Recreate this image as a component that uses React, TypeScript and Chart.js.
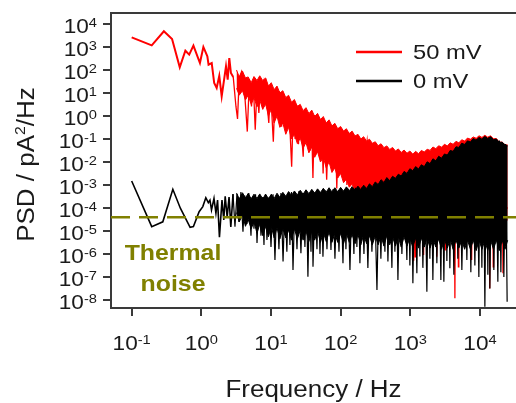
import React, { useEffect, useRef } from 'react';
import { Chart, registerables } from 'chart.js';

Chart.register(...registerables);

// ---------- axes ----------
const X_MIN = 0.0505;
const X_MAX = 32900;
const Y_MIN = 4.5e-9;
const Y_MAX = 3.0e4;
const X_TICK_VALUES = [0.1, 1, 10, 100, 1000, 10000];
const X_TICK_EXPONENTS = ['-1', '0', '1', '2', '3', '4'];
const Y_TICK_VALUES = [1e4, 1e3, 1e2, 1e1, 1, 1e-1, 1e-2, 1e-3, 1e-4, 1e-5, 1e-6, 1e-7, 1e-8];
const Y_TICK_EXPONENTS = ['4', '3', '2', '1', '0', '-1', '-2', '-3', '-4', '-5', '-6', '-7', '-8'];

// ---------- text ----------
const X_TITLE = 'Frequency / Hz';
const Y_TITLE_PARTS = ['PSD / pA', '2', '/Hz'];
const SERIES_LABELS = ['50 mV', '0 mV'];
const NOISE_LABEL = ['Thermal', 'noise'];
const THERMAL_LEVEL = 4e-5;

// ---------- 50 mV series (red) ----------
const RED_LOW: [number, number][] = [
  [0.1, 2600], [0.194, 1180], [0.29, 4800], [0.38, 2240], [0.49, 132], [0.59, 690], [0.67, 465],
  [0.77, 1140], [0.955, 200], [1.07, 1000], [1.22, 395], [1.27, 170], [1.41, 200], [1.53, 27],
  [1.66, 16.6], [1.81, 56], [1.96, 7.2], [2.14, 45], [2.26, 145], [2.39, 38], [2.52, 330],
  [2.66, 74], [2.87, 50],
];
const RED_DENSE: [number, number][] = [
  [2.87, 50], [3.14, 2.6], [3.31, 0.74], [3.5, 45], [3.8, 87], [4.0, 52], [4.25, 5.1], [4.57, 0.21],
  [4.9, 38], [5.25, 2.6], [5.56, 32], [5.94, 0.25], [6.3, 19], [6.7, 1.35], [7.1, 38], [7.6, 1.9],
  [8.0, 27], [8.7, 5.1], [9.3, 0.5], [9.8, 20], [10.8, 0.076], [11.5, 15], [12.3, 1.0], [13.2, 12],
  [14.2, 0.34], [15.3, 9], [16.5, 0.6], [17.8, 6], [18.8, 0.2], [19.8, 0.0063], [21.0, 4], [22.2, 0.1],
  [23.5, 3], [24.8, 0.06], [26.2, 2.4], [27.6, 0.15], [29, 0.017], [30.5, 2], [32, 0.08], [34, 1.5],
  [36, 0.03], [38, 1.3], [40, 0.002], [42, 1.1], [44.5, 0.04], [47, 1.0], [50, 0.015], [53, 0.8],
  [56, 0.0032], [59, 0.6], [63, 0.0017], [67, 0.5], [71, 0.02], [75, 0.4], [79, 0.008], [84, 0.35],
  [88, 0.0007], [93, 0.3], [98, 0.01], [104, 0.25], [110, 0.003], [116, 0.22], [123, 0.001], [130, 0.2],
  [137, 0.004], [145, 0.17], [153, 0.002], [162, 0.14], [171, 0.006], [181, 0.12], [192, 0.003],
  [205, 0.1], [220, 0.01], [240, 0.085], [260, 0.005], [300, 0.001], [600, 0.0003], [1000, 1e-4],
  [1070, 1e-4], [1096, 5.5e-7], [1120, 1e-4], [1150, 1e-4], [1175, 7.6e-7], [1200, 1e-4],
  [1520, 1e-4], [1550, 9.1e-7], [1580, 1e-4], [2350, 1e-4], [2400, 7.6e-7], [2450, 1e-4],
  [3100, 1e-4], [3160, 1.5e-6], [3220, 1e-4], [4300, 1e-4], [4365, 1.2e-8], [4430, 1e-4],
  [4830, 1e-4], [4900, 2.8e-7], [4970, 1e-4], [7480, 1e-4], [7590, 5.5e-7], [7700, 1e-4],
  [13600, 1e-4], [13800, 3.2e-8], [14000, 1e-4], [15300, 1e-4], [15500, 2.8e-7], [15700, 1e-4],
  [21100, 1e-4], [21400, 1.45e-7], [21700, 1e-4], [25000, 1e-4],
];

// ---------- dense-band frequencies (shared) ----------
const BAND_F = [
  3.2, 3.5, 3.9, 4.3, 4.7, 5.2, 5.7, 6.3, 6.9, 7.6,
  8.4, 9.2, 10.1, 11.1, 12.2, 13.4, 14.8, 16.3, 17.9, 19.7,
  21.7, 23.9, 26.3, 28.9, 31.8, 35, 38.5, 42.4, 46.6, 51.3,
  56.4, 62, 68.2, 75, 82.5, 90.8, 99.9, 110, 121, 133,
  146, 161, 177, 195, 214, 236, 259, 285, 314, 345,
  380, 418, 460, 506, 556, 612, 673, 740, 814, 896,
  985, 1084, 1192, 1311, 1442, 1587, 1745, 1920, 2112, 2323,
  2555, 2811, 3092, 3401, 3741, 4115, 4527, 4979, 5477, 6025,
  6628, 7290, 8019, 8821, 9703, 10674, 11741, 12915, 14207, 15627,
  17190, 18909, 20800, 22880, 25000,
];
const RED_BAND_UPPER = [
  100, 50, 89, 45, 50, 28, 52, 35, 56, 35,
  45, 20, 28, 14, 20, 10, 12.6, 6.3, 7.9, 4,
  5.2, 2.6, 3.2, 1.7, 2.3, 1.26, 1.8, 0.95, 1.3, 0.7,
  0.95, 0.5, 0.68, 0.37, 0.48, 0.28, 0.35, 0.22, 0.28, 0.17,
  0.22, 0.135, 0.16, 0.1, 0.126, 0.08, 0.098, 0.065, 0.076, 0.051,
  0.062, 0.042, 0.05, 0.035, 0.043, 0.03, 0.037, 0.026, 0.033, 0.024,
  0.03, 0.022, 0.029, 0.023, 0.032, 0.027, 0.036, 0.032, 0.045, 0.038,
  0.051, 0.044, 0.059, 0.05, 0.068, 0.059, 0.079, 0.068, 0.093, 0.081,
  0.11, 0.098, 0.123, 0.107, 0.138, 0.117, 0.145, 0.12, 0.138, 0.102,
  0.105, 0.072, 0.074, 0.056, 0.055,
];
const RED_BAND_LOWER = [
  16, 8, 12.6, 5, 8, 3.2, 6.3, 2.5, 5, 2,
  3.2, 1, 2, 0.5, 1, 0.32, 0.5, 0.16, 0.32, 0.1,
  0.16, 0.063, 0.11, 0.04, 0.07, 0.025, 0.045, 0.016, 0.028, 0.01,
  0.016, 0.0056, 0.01, 0.0035, 0.0056, 0.002, 0.0032, 0.00126, 0.0018, 8e-4,
  0.0011, 5e-4, 6.3e-4, 3.2e-4, 4e-4, 2e-4, 1e-4, 1e-4, 1e-4, 1e-4,
  1e-4, 3e-5, 3e-5, 3e-5, 3e-5, 3e-5, 3e-5, 3e-5, 3e-5, 3e-5,
  3e-5, 3e-5, 3e-5, 3e-5, 3e-5, 3e-5, 3e-5, 3e-5, 3e-5, 3e-5,
  3e-5, 3e-5, 3e-5, 3e-5, 3e-5, 3e-5, 3e-5, 3e-5, 3e-5, 3e-5,
  3e-5, 3e-5, 3e-5, 3e-5, 3e-5, 3e-5, 3e-5, 3e-5, 3e-5, 3e-5,
  3e-5, 3e-5, 3e-5, 3e-5, 3e-5,
];

// ---------- 0 mV series (black) ----------
const BLACK_LOW: [number, number][] = [
  [0.1, 1.5e-3], [0.194, 1.55e-5], [0.28, 2.5e-5], [0.39, 6.5e-4], [0.5, 9.8e-5], [0.69, 1.45e-5],
  [0.77, 1.55e-5], [0.93, 6.9e-5], [1.05, 1.15e-4], [1.16, 2.8e-4], [1.26, 1.7e-4], [1.33, 2.2e-4],
  [1.4, 8.2e-5], [1.52, 2.6e-4], [1.62, 5.9e-5], [1.71, 2.2e-4], [1.82, 5.4e-6], [1.98, 2.2e-4],
  [2.1, 3e-5], [2.2, 3.2e-4], [2.35, 4e-5], [2.5, 3e-4], [2.65, 1.5e-5], [2.85, 4e-4],
];
const BLACK_DENSE: [number, number][] = [
  [2.85, 4e-4], [3.04, 1.55e-5], [3.25, 4e-4], [3.47, 2.5e-5], [3.7, 5e-4], [3.96, 9.3e-6], [4.2, 3.5e-4],
  [4.52, 2e-5], [4.8, 4.5e-4], [5.16, 6.3e-6], [5.4, 3e-4], [5.7, 1.26e-5], [6.0, 4e-4], [6.3, 3e-6],
  [6.7, 3.5e-4], [7.18, 6.3e-6], [7.5, 3e-4], [7.93, 2.5e-6], [8.3, 4e-4], [8.75, 4.1e-6], [9.4, 3e-4],
  [10.0, 2e-6], [10.7, 4e-4], [11.4, 5.5e-7], [12.2, 3.5e-4], [13.0, 1.6e-6], [13.9, 4.5e-4],
  [14.9, 4.7e-7], [15.9, 3.5e-4], [16.9, 1.26e-6], [17.8, 4e-4], [18.7, 2.5e-6], [19.7, 5e-4],
  [20.7, 2e-7], [22.1, 4e-4], [23.6, 1.6e-6], [25.2, 5.5e-4], [26.9, 1.07e-6], [28.7, 4.5e-4],
  [30.7, 2e-6], [32.3, 5e-4], [33.9, 1.02e-7], [35.7, 4.5e-4], [37.5, 1.26e-6], [38.8, 5.5e-4],
  [40.1, 2.8e-7], [42.8, 5e-4], [45.7, 1.6e-6], [48, 6e-4], [50.5, 1e-6], [53, 5e-4], [55.7, 7.6e-7],
  [59.5, 6e-4], [63.6, 1.6e-6], [68, 5.5e-4], [72.6, 1.5e-6], [77.5, 6.5e-4], [82.8, 6.3e-7],
  [88.5, 5.5e-4], [94.6, 1.26e-6], [101, 6.5e-4], [108, 4e-7], [113, 6e-4], [119, 1.6e-6], [127, 7e-4],
  [136, 2e-7], [145, 6e-4], [155, 1e-6], [163, 7.5e-4], [171, 2e-6], [180, 6.5e-4], [189, 4e-7],
  [202, 8e-4], [216, 1e-6], [230, 7e-4], [246, 2.5e-7], [263, 9e-4], [281, 1.26e-6], [305, 8.5e-4],
  [332, 2.7e-8], [355, 1.1e-3], [378, 6.3e-7], [404, 1.2e-3], [432, 1.26e-6], [454, 1.5e-3],
  [477, 4.7e-7], [510, 1.4e-3], [544, 2.5e-7], [572, 1.9e-3], [601, 1.26e-6], [632, 1.8e-3],
  [664, 7.4e-8], [710, 2.3e-3], [757, 1e-6], [822, 2.8e-3], [893, 5.5e-7], [938, 2.6e-3], [986, 3.2e-7],
  [1036, 3.8e-3], [1089, 5.4e-8], [1163, 4.5e-3], [1242, 1.45e-7], [1306, 5e-3], [1372, 7.9e-7],
  [1442, 6e-3], [1515, 2.5e-7], [1620, 6.5e-3], [1729, 2.3e-8], [1817, 8.5e-3], [1909, 6.3e-7],
  [2006, 9e-3], [2108, 7.4e-8], [2250, 0.012], [2405, 4e-7], [2570, 0.014], [2746, 7.4e-8],
  [2885, 0.017], [3032, 6.3e-8], [3186, 0.019], [3348, 5e-7], [3518, 0.022], [3697, 2.4e-7],
  [3950, 0.03], [4218, 1.26e-7], [4500, 0.037], [4815, 6.3e-7], [5140, 0.048], [5495, 2e-7],
  [5970, 0.058], [6486, 5.5e-7], [6930, 0.075], [7396, 1.6e-7], [7900, 0.085], [8447, 3.2e-7],
  [9020, 0.1], [9640, 1e-7], [10130, 0.11], [10650, 2.5e-7], [11190, 0.115], [11760, 5.1e-9],
  [12350, 0.12], [12980, 1.26e-7], [13420, 0.115], [13870, 3.2e-8], [14800, 0.11], [15820, 2e-7],
  [16900, 0.1], [18060, 6.3e-8], [19000, 0.085], [19950, 1.6e-7], [21000, 0.07], [22030, 1e-7],
  [23300, 0.06], [24550, 8.5e-9],
];
const BLACK_BAND_UPPER = [
  4.5e-4, 2.5e-4, 4.6e-4, 2.7e-4, 4.3e-4, 2.5e-4, 4e-4, 2.6e-4, 4.1e-4, 2.5e-4,
  4e-4, 2.5e-4, 4e-4, 2.6e-4, 4.4e-4, 2.9e-4, 4.8e-4, 3.2e-4, 5.2e-4, 3.5e-4,
  5.5e-4, 3.7e-4, 5.9e-4, 4e-4, 6.2e-4, 4.2e-4, 6.5e-4, 4.4e-4, 6.8e-4, 4.7e-4,
  7.2e-4, 4.9e-4, 7.6e-4, 5e-4, 7.6e-4, 5.1e-4, 7.9e-4, 5.4e-4, 8.3e-4, 5.6e-4,
  8.5e-4, 5.9e-4, 8.9e-4, 6.3e-4, 9.8e-4, 7.1e-4, 1.12e-3, 8.5e-4, 1.35e-3, 1.05e-3,
  1.7e-3, 1.3e-3, 2.1e-3, 1.55e-3, 2.4e-3, 1.95e-3, 2.95e-3, 2.45e-3, 3.9e-3, 3.2e-3,
  5.1e-3, 4.2e-3, 6.3e-3, 5e-3, 7.6e-3, 6.3e-3, 0.0102, 8.5e-3, 0.0138, 0.0112,
  0.0178, 0.0145, 0.0224, 0.02, 0.032, 0.029, 0.046, 0.043, 0.066, 0.058,
  0.083, 0.074, 0.105, 0.089, 0.117, 0.098, 0.129, 0.105, 0.126, 0.093,
  0.1, 0.072, 0.072, 0.056, 0.05,
];
const BLACK_BAND_LOWER = [
  6.3e-5, 2.5e-5, 5e-5, 1.6e-5, 3.2e-5, 1.26e-5, 2.5e-5, 8e-6, 2e-5, 6.3e-6,
  1.6e-5, 5.6e-6, 1.6e-5, 5e-6, 1.4e-5, 4.5e-6, 1.26e-5, 5e-6, 1.1e-5, 4e-6,
  1.26e-5, 4.5e-6, 1.1e-5, 4e-6, 1e-5, 3.5e-6, 1e-5, 4e-6, 1e-5, 3.2e-6,
  8.9e-6, 3.5e-6, 8.9e-6, 3.2e-6, 8e-6, 3.2e-6, 8e-6, 2.8e-6, 8e-6, 3.2e-6,
  7.1e-6, 2.8e-6, 7.1e-6, 2.5e-6, 7.1e-6, 2.8e-6, 6.3e-6, 2.5e-6, 6.3e-6, 2.5e-6,
  6.3e-6, 2.2e-6, 6.3e-6, 2.5e-6, 5.6e-6, 2.2e-6, 5.6e-6, 2e-6, 5.6e-6, 2.2e-6,
  5e-6, 2e-6, 5e-6, 1.8e-6, 5e-6, 2e-6, 5e-6, 1.8e-6, 4.5e-6, 2e-6,
  4.5e-6, 1.6e-6, 4.5e-6, 1.8e-6, 4.5e-6, 1.6e-6, 4e-6, 1.8e-6, 4e-6, 1.6e-6,
  4e-6, 1.6e-6, 4e-6, 1.4e-6, 4e-6, 1.6e-6, 4e-6, 1.4e-6, 4e-6, 1.6e-6,
  4e-6, 1.4e-6, 4e-6, 1.6e-6, 4e-6,
];

// ---------- styles ----------
const RED = '#ff0000';
const BLACK = '#000000';
const OLIVE = '#808000';
const AXIS = '#3a3a3a';
const TEXT = '#1a1a1a';
const FONT = '"Liberation Sans", Arial, Helvetica, sans-serif';
const SX = 1.13;

type Run = { text: string; font: string; dy?: number };

function drawRuns(ctx: CanvasRenderingContext2D, runs: Run[], x: number, y: number,
  align: 'left' | 'center' | 'right', angle: number, color: string) {
  ctx.save();
  let total = 0;
  const widths = runs.map((r) => { ctx.font = r.font; const w = ctx.measureText(r.text).width; total += w; return w; });
  ctx.translate(x, y);
  if (angle) ctx.rotate(angle);
  ctx.scale(SX, 1);
  let cx = align === 'right' ? -total : align === 'center' ? -total / 2 : 0;
  ctx.fillStyle = color;
  ctx.textAlign = 'left';
  ctx.textBaseline = 'alphabetic';
  runs.forEach((r, i) => { ctx.font = r.font; ctx.fillText(r.text, cx, r.dy || 0); cx += widths[i]; });
  ctx.restore();
}

const pairs = (arr: [number, number][]) => arr.map(([x, y]) => ({ x, y }));
const band = (f: number[], v: number[]) => f.map((x, i) => ({ x, y: v[i] }));

const textPlugin = {
  id: 'psdText',
  beforeDatasetsDraw(chart: any) {
    const { ctx, chartArea: a } = chart;
    ctx.save();
    ctx.strokeStyle = AXIS;
    ctx.lineWidth = 2;
    ctx.beginPath();
    ctx.moveTo(a.left - 1, a.top);
    ctx.lineTo(a.right, a.top);
    ctx.stroke();
    ctx.restore();
  },
  afterDraw(chart: any) {
    const { ctx, chartArea: a, scales } = chart;
    const tickFont = `20px ${FONT}`;
    const supFont = `13px ${FONT}`;
    Y_TICK_VALUES.forEach((v, i) => {
      const py = scales.y.getPixelForValue(v);
      drawRuns(ctx, [{ text: '10', font: tickFont }, { text: Y_TICK_EXPONENTS[i], font: supFont, dy: -6 }],
        a.left - 14, py + 9, 'right', 0, TEXT);
    });
    X_TICK_VALUES.forEach((v, i) => {
      const px = scales.x.getPixelForValue(v);
      drawRuns(ctx, [{ text: '10', font: tickFont }, { text: X_TICK_EXPONENTS[i], font: supFont, dy: -6 }],
        px, a.bottom + 42, 'center', 0, TEXT);
    });
    const titleFont = `23px ${FONT}`;
    drawRuns(ctx, [{ text: X_TITLE, font: titleFont }], (a.left + a.right) / 2, a.bottom + 89, 'center', 0, TEXT);
    drawRuns(ctx, [
      { text: Y_TITLE_PARTS[0], font: titleFont },
      { text: Y_TITLE_PARTS[1], font: `14px ${FONT}`, dy: -9 },
      { text: Y_TITLE_PARTS[2], font: titleFont },
    ], a.left - 77.5, (a.top + a.bottom) / 2 + 4, 'center', -Math.PI / 2, TEXT);
    const legendColors = [RED, BLACK];
    SERIES_LABELS.forEach((label, i) => {
      const ly = a.top + 39 + i * 29;
      ctx.save();
      ctx.strokeStyle = legendColors[i];
      ctx.lineWidth = 2.5;
      ctx.beginPath();
      ctx.moveTo(a.left + 245, ly);
      ctx.lineTo(a.left + 291, ly);
      ctx.stroke();
      ctx.restore();
      drawRuns(ctx, [{ text: label, font: `21px ${FONT}` }], a.left + 302, ly + 6.5, 'left', 0, TEXT);
    });
    const boldFont = `bold 22px ${FONT}`;
    drawRuns(ctx, [{ text: NOISE_LABEL[0], font: boldFont }], a.left + 62, 259.5, 'center', 0, OLIVE);
    drawRuns(ctx, [{ text: NOISE_LABEL[1], font: boldFont }], a.left + 62, 291, 'center', 0, OLIVE);
  },
};

const axisCommon = {
  type: 'logarithmic' as const,
  ticks: { display: false },
  grid: {
    display: true, drawOnChartArea: false, drawTicks: true, tickLength: 8,
    color: AXIS, lineWidth: 2, tickColor: AXIS, tickWidth: 2,
  },
  border: { display: true, color: AXIS, width: 2 },
  title: { display: false },
};

export default function App() {
  const ref = useRef<HTMLCanvasElement>(null);
  useEffect(() => {
    document.body.style.margin = '0';
    const canvas = ref.current;
    if (!canvas) return;
    const chart = new Chart(canvas, {
      type: 'line',
      data: {
        datasets: [
          { label: 'thermal', data: [{ x: X_MIN, y: THERMAL_LEVEL }, { x: X_MAX, y: THERMAL_LEVEL }],
            borderColor: OLIVE, borderWidth: 2.5, borderDash: [19, 9], order: 0, fill: false },
          { label: SERIES_LABELS[1] + ' low', data: pairs(BLACK_LOW), borderColor: BLACK, borderWidth: 1.6, order: 1, fill: false },
          { label: SERIES_LABELS[1], data: pairs(BLACK_DENSE), borderColor: BLACK, borderWidth: 1.2, order: 2, fill: false },
          { label: 'black upper', data: band(BAND_F, BLACK_BAND_UPPER), borderColor: BLACK, borderWidth: 1,
            backgroundColor: BLACK, fill: '+1', order: 3 },
          { label: 'black lower', data: band(BAND_F, BLACK_BAND_LOWER), borderColor: BLACK, borderWidth: 1, order: 4, fill: false },
          { label: SERIES_LABELS[0] + ' low', data: pairs(RED_LOW), borderColor: RED, borderWidth: 2, order: 5, fill: false },
          { label: SERIES_LABELS[0], data: pairs(RED_DENSE), borderColor: RED, borderWidth: 1.3, order: 6, fill: false },
          { label: 'red upper', data: band(BAND_F, RED_BAND_UPPER), borderColor: RED, borderWidth: 1,
            backgroundColor: RED, fill: '+1', order: 7 },
          { label: 'red lower', data: band(BAND_F, RED_BAND_LOWER), borderColor: RED, borderWidth: 1, order: 8, fill: false },
        ] as any,
      },
      options: {
        responsive: false,
        animation: false,
        devicePixelRatio: 1,
        events: [],
        layout: { padding: { left: 103, right: 0, top: 13, bottom: 87 } },
        elements: { point: { radius: 0 }, line: { tension: 0 } },
        plugins: { legend: { display: false }, tooltip: { enabled: false }, title: { display: false } },
        scales: {
          x: { ...axisCommon, position: 'bottom', min: X_MIN, max: X_MAX,
            afterBuildTicks: (s: any) => { s.ticks = X_TICK_VALUES.map((v) => ({ value: v })); } },
          y: { ...axisCommon, position: 'left', min: Y_MIN, max: Y_MAX,
            afterBuildTicks: (s: any) => { s.ticks = Y_TICK_VALUES.map((v) => ({ value: v })); } },
        },
      } as any,
      plugins: [textPlugin],
    });
    return () => chart.destroy();
  }, []);
  return (
    <div style={{ position: 'fixed', left: 0, top: 0, width: 516, height: 403, background: '#fff' }}>
      <canvas ref={ref} width={516} height={403} style={{ display: 'block', width: 516, height: 403 }} />
    </div>
  );
}
